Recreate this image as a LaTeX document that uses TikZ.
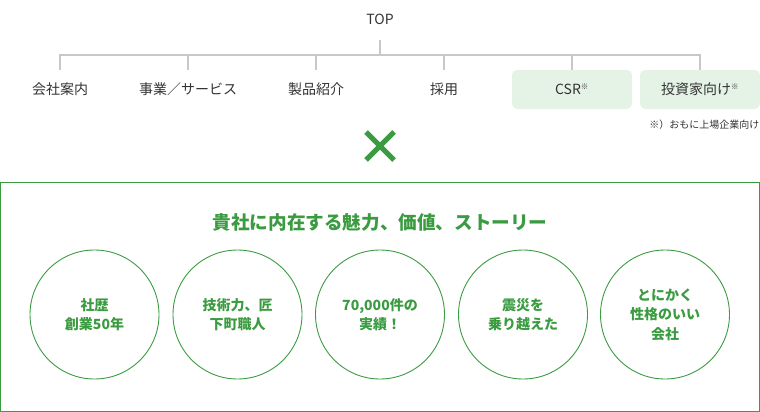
\documentclass[tikz,border=0pt]{standalone}
\usepackage{fontspec}
\setmainfont{Noto Sans CJK JP}
\definecolor{grn}{HTML}{3A9B40}
\definecolor{lgrn}{HTML}{E5F3E6}
\definecolor{grayline}{HTML}{C8C8C8}
\definecolor{txt}{HTML}{333333}
\begin{document}
\begin{tikzpicture}[x=1pt,y=-1pt,
  menu/.style={minimum width=120pt,minimum height=39pt,inner sep=0pt,text=txt,font=\fontsize{14}{16}\selectfont},
  hl/.style={menu,fill=lgrn,rounded corners=5pt},
  tree/.style={draw=grayline,line width=2pt},
  circ/.style={circle,draw=grn,line width=0.9pt,minimum size=129pt,inner sep=0pt,align=center,text=grn,font=\fontsize{14}{19.5}\selectfont\bfseries}]
\useasboundingbox (0,0) rectangle (760,412);
\node[text=txt,font=\fontsize{14}{16}\selectfont,minimum height=42pt,inner sep=0pt] (top) at (380,19) {TOP};
\coordinate (bar) at (380,55);
\node[menu] (c1) at (60,89.5) {会社案内};
\node[menu] (c2) at (188,89.5) {事業／サービス};
\node[menu] (c3) at (316,89.5) {製品紹介};
\node[menu] (c4) at (444,89.5) {採用};
\node[hl] (c5) at (572,89.5) {CSR\textsuperscript{\fontsize{7.5}{7.5}\selectfont ※}};
\node[hl] (c6) at (700,89.5) {投資家向け\textsuperscript{\fontsize{7.5}{7.5}\selectfont ※}};
\draw[tree] (top.south) -- (bar);
\foreach \c in {c1,c2,c3,c4,c5,c6} \draw[tree] (bar) -| (\c.north);
\node[anchor=east,inner sep=0pt,text=txt,font=\fontsize{10}{11}\selectfont] (note) at (759.5,125) {※）おもに上場企業向け};
% cross
\draw[grn,line width=5pt] (366,132) -- (394,160);
\draw[grn,line width=5pt] (394,132) -- (366,160);
% frame
\node[draw=grn,line width=1.3pt,minimum width=758.7pt,minimum height=229pt,inner sep=0pt] (frame) at (380,296.8) {};
\node[text=grn,font=\fontsize{18.6}{20}\selectfont\bfseries] (title) at (380,222) {貴社に内在する魅力、価値、ストーリー};
\node[circ] (k1) at (94.5,314.5) {社歴\\創業50年};
\node[circ] (k2) at (237.5,314.5) {技術力、匠\\下町職人};
\node[circ] (k3) at (380,314.5) {70,000件の\\実績！};
\node[circ] (k4) at (523,314.5) {震災を\\乗り越えた};
\node[circ] (k5) at (665,314.5) {とにかく\\性格のいい\\会社};
\end{tikzpicture}
\end{document}
